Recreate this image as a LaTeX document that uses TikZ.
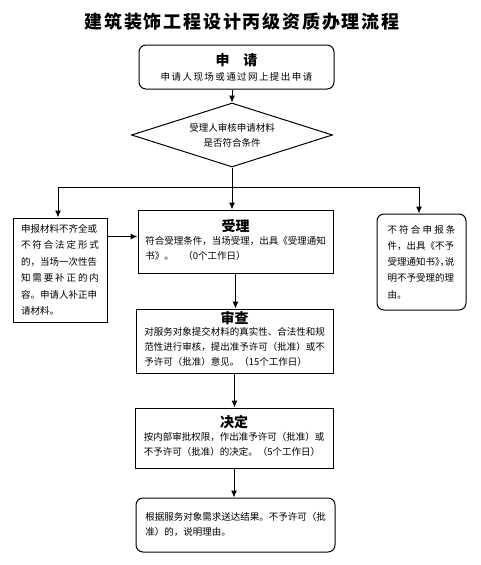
\documentclass[tikz,border=0pt]{standalone}
\usepackage{fontspec}
\usetikzlibrary{shapes.geometric,arrows.meta}
\newfontfamily\cjk{Noto Sans CJK SC}
\newfontfamily\cjktitle[LetterSpace=10]{Noto Sans CJK SC}
\newfontfamily\cjkwide[LetterSpace=15]{Noto Sans CJK SC}
\newcommand\cnbody{\cjk\fontsize{9.5}{15}\selectfont}
\newcommand\cnhead{\cjk\bfseries\fontsize{14}{16}\selectfont}
\newcommand\fillrow[1]{\makebox[\linewidth][s]{#1}}
\newcommand\halfw[1]{\makebox[4.9pt][l]{#1}}

\begin{document}
\begin{tikzpicture}[x=1pt,y=-1pt,
        every node/.style={font=\cnbody},
        box/.style={draw, line width=1pt, inner sep=0pt, align=center},
        roundbox/.style={box, rounded corners=7pt},
        link/.style={line width=1pt},
        arr/.style={line width=1pt, -{Latex[length=7pt,width=6pt]}}]
    \useasboundingbox (0,0) rectangle (481,565);

    % Title
    \node[font=\cjktitle\bfseries\fontsize{18}{20}\selectfont] (title) at (242,22) {建筑装饰工程设计丙级资质办理流程};

    % Application and check
    \node[roundbox, minimum width=195pt, minimum height=44pt] (apply) at (236.5,67)
        {{\cnhead 申\quad 请}\\ {\cjkwide 申请人现场或通过网上提出申请}};
    \node[diamond, draw, line width=1pt, aspect=3.1, inner sep=0pt,
          minimum width=201pt, minimum height=64pt, align=center] (check) at (232,135)
        {受理人审核申请材料\\ 是否符合条件};

    % Three outcomes
    \node[box, minimum width=94pt, minimum height=104pt, text width=78pt, align=left,
          font=\cjk\fontsize{9.5}{16.5}\selectfont] (incomplete) at (60,270)
        {\fillrow{申报材料不齐全或}\\
         \fillrow{不\hfill 符\hfill 合\hfill 法\hfill 定\hfill 形\hfill 式}\\
         \fillrow{的，当场一次性告}\\
         \fillrow{知\hfill 需\hfill 要\hfill 补\hfill 正\hfill 的\hfill 内}\\
         \fillrow{容。申请人补正申}\\
         请材料。};
    \node[box, minimum width=195pt, minimum height=63pt] (accept) at (235.5,241.5)
        {{\cnhead 受理}\\
         \begin{tabular}{@{}l@{}}符合受理条件，当场受理，出具《受理通知\\书》。\quad （0个工作日）\end{tabular}};
    \node[roundbox, minimum width=89pt, minimum height=96pt, text width=68pt, align=left,
          font=\cjk\fontsize{9.5}{16.2}\selectfont] (reject) at (421.5,262)
        {\fillrow{不\hfill 符\hfill 合\hfill 申\hfill 报\hfill 条}\\
         \fillrow{件，出具《不予}\\
         \fillrow{受理通知书\halfw{》}\halfw{，}说}\\
         \fillrow{明不予受理的理}\\
         由。};

    % Review, decision, result
    \node[box, minimum width=197pt, minimum height=64pt] (review) at (234.5,341)
        {{\cnhead 审查}\\[-1pt]
         \begin{tabular}{@{}l@{}}对服务对象提交材料的真实性、合法性和规\\范性进行审核，提出准予许可（批准）或不\\予许可（批准）意见。（15个工作日）\end{tabular}};
    \node[box, minimum width=198pt, minimum height=60pt] (decide) at (234,438)
        {{\cnhead 决定}\\
         \begin{tabular}{@{}l@{}}按内部审批权限，作出准予许可（批准）或\\不予许可（批准）的决定。（5个工作日）\end{tabular}};
    \node[roundbox, minimum width=199pt, minimum height=54pt] (result) at (235.5,525)
        {\begin{tabular}{@{}l@{}}根据服务对象需求送达结果。不予许可（批\\准）的，说明理由。\end{tabular}};

    % Connectors
    \coordinate (split) at (232,187);
    \coordinate (splitL) at (58,187);
    \coordinate (splitR) at (419,187);
    \draw[arr] (check.north |- apply.south) -- (check.north);
    \draw[link] (check.south) -- (split);
    \draw[link] (splitL) -- (splitR);
    \draw[arr] (splitL) -- (splitL |- incomplete.north);
    \draw[arr] (split) -- (split |- accept.north);
    \draw[arr] (splitR) -- (splitR |- reject.north);
    \draw[arr] ([yshift=-19pt]incomplete.north east) -- ([yshift=-19pt]incomplete.north east -| accept.west);
    \draw[arr] (accept.south) -- (accept.south |- review.north);
    \draw[arr] (review.south) -- (review.south |- decide.north);
    \draw[arr] (decide.south) -- (decide.south |- result.north);
\end{tikzpicture}
\end{document}
